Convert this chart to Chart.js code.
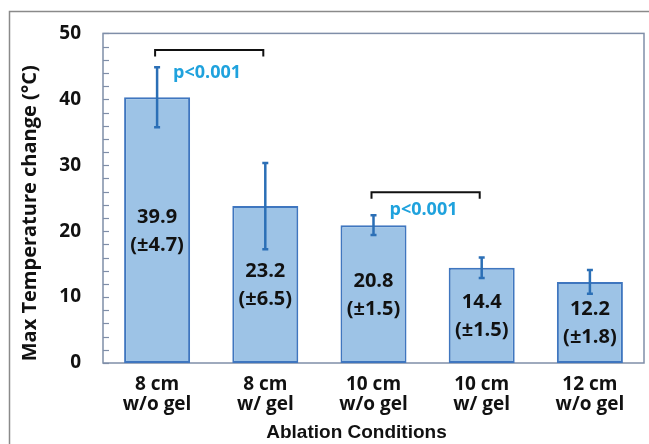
<!DOCTYPE html>
<html>
<head>
<meta charset="utf-8">
<script src="https://cdn.jsdelivr.net/npm/chart.js@4.4.1/dist/chart.umd.min.js"></script>
<style>
  html, body { margin: 0; padding: 0; background: #fff; }
  #wrap { width: 649px; height: 444px; }
</style>
</head>
<body>
<div id="wrap"><canvas id="Chart-1"></canvas></div>
<script>
const conditions = [['8 cm', 'w/o gel'], ['8 cm', 'w/ gel'], ['10 cm', 'w/o gel'], ['10 cm', 'w/ gel'], ['12 cm', 'w/o gel']];
const tempChange = [40.3, 23.8, 20.9, 14.45, 12.3];
const errorSize = [4.55, 6.55, 1.5, 1.55, 1.8];
const meanLabels = ['39.9', '23.2', '20.8', '14.4', '12.2'];
const sdLabels = ['(±4.7)', '(±6.5)', '(±1.5)', '(±1.5)', '(±1.8)'];
const yTicks = [0, 10, 20, 30, 40, 50];
const pBrackets = [
    { from: 0, to: 1, top: 47.5, legs: 46.5, text: 'p<0.001', textY: 44.0 },
    { from: 2, to: 3, top: 25.9, legs: 24.9, text: 'p<0.001', textY: 23.2 }
];

const FONT = "'Open Sans', 'Noto Sans', sans-serif";

const extras = {
    id: 'extras',
    beforeDraw(chart) {
        const ctx = chart.ctx;
        ctx.save();
        // outer figure frame
        ctx.strokeStyle = '#8a8a8a';
        ctx.lineWidth = 1.5;
        ctx.beginPath();
        ctx.moveTo(9.5, 444);
        ctx.lineTo(9.5, 11.5);
        ctx.lineTo(649, 11.5);
        ctx.stroke();
        ctx.restore();
    },
    beforeDatasetsDraw(chart) {
        const ctx = chart.ctx;
        const a = chart.chartArea;
        const y = chart.scales.y;
        ctx.save();
        ctx.strokeStyle = '#7f8ea8';
        ctx.lineWidth = 1.5;
        ctx.strokeRect(a.left, a.top, a.right - a.left, a.bottom - a.top);
        // minor tick marks inside the plot
        ctx.lineWidth = 1.2;
        y.ticks.forEach(t => {
            const py = Math.round(y.getPixelForValue(t.value)) + 0.5;
            ctx.beginPath();
            ctx.moveTo(a.left, py);
            ctx.lineTo(a.left + 6, py);
            ctx.stroke();
        });
        ctx.restore();
    },
    afterDatasetsDraw(chart) {
        const ctx = chart.ctx;
        const x = chart.scales.x;
        const y = chart.scales.y;
        const a = chart.chartArea;
        ctx.save();

        // error bars
        ctx.strokeStyle = '#2b6fb6';
        ctx.lineWidth = 2.5;
        tempChange.forEach((v, i) => {
            const px = x.getPixelForValue(i);
            const top = y.getPixelForValue(v + errorSize[i]);
            const bot = y.getPixelForValue(v - errorSize[i]);
            ctx.beginPath();
            ctx.moveTo(px, top);
            ctx.lineTo(px, bot);
            ctx.moveTo(px - 3, top);
            ctx.lineTo(px + 3, top);
            ctx.moveTo(px - 3, bot);
            ctx.lineTo(px + 3, bot);
            ctx.stroke();
        });

        // value labels inside bars
        ctx.fillStyle = '#111';
        ctx.font = 'bold 20px ' + FONT;
        ctx.textAlign = 'center';
        ctx.textBaseline = 'middle';
        tempChange.forEach((v, i) => {
            const px = x.getPixelForValue(i);
            const mid = y.getPixelForValue(v / 2) + 1;
            ctx.fillText(meanLabels[i], px, mid - 14);
            ctx.fillText(sdLabels[i], px, mid + 14);
        });

        // significance brackets
        pBrackets.forEach(b => {
            const x1 = x.getPixelForValue(b.from) - 2;
            const x2 = x.getPixelForValue(b.to) - 2;
            const yt = y.getPixelForValue(b.top);
            const yl = y.getPixelForValue(b.legs);
            ctx.strokeStyle = '#111';
            ctx.lineWidth = 2;
            ctx.beginPath();
            ctx.moveTo(x1, yl);
            ctx.lineTo(x1, yt);
            ctx.lineTo(x2, yt);
            ctx.lineTo(x2, yl);
            ctx.stroke();
            ctx.fillStyle = '#1fa2dd';
            ctx.font = 'bold 18px ' + FONT;
            ctx.textAlign = 'left';
            ctx.fillText(b.text, x.getPixelForValue(b.from) + 16, y.getPixelForValue(b.textY));
        });

        // axis titles
        ctx.fillStyle = '#111';
        ctx.textAlign = 'center';
        ctx.font = 'bold 20px ' + FONT;
        ctx.translate(30, (a.top + a.bottom) / 2 + 15);
        ctx.rotate(-Math.PI / 2);
        ctx.fillText('Max Temperature change (°C)', 0, 0);
        ctx.setTransform(1, 0, 0, 1, 0, 0);
        ctx.font = "bold 19px 'Liberation Sans', Arial, sans-serif";
        ctx.fillText('Ablation Conditions', (a.left + a.right) / 2 - 17, 433);
        ctx.restore();
    }
};

new Chart(document.getElementById('Chart-1'), {
    type: 'bar',
    data: {
        labels: conditions,
        datasets: [{
            data: tempChange,
            backgroundColor: '#9dc3e6',
            borderColor: '#3f76bf',
            borderWidth: 2,
            borderSkipped: false,
            barPercentage: 0.61,
            categoryPercentage: 1
        }]
    },
    options: {
        responsive: true,
        maintainAspectRatio: false,
        animation: false,
        layout: {
            padding: { top: 31, right: 5, left: 0, bottom: 0 }
        },
        plugins: {
            legend: { display: false },
            tooltip: { enabled: false }
        },
        scales: {
            x: {
                grid: { display: false, drawTicks: false },
                border: { display: false },
                ticks: {
                    color: '#111',
                    padding: 12,
                    font: { family: FONT, size: 19, weight: 'bold', lineHeight: 1.05 }
                },
                afterFit: s => { s.height = 81; }
            },
            y: {
                min: 0,
                max: 50,
                grid: { display: false, drawTicks: false },
                border: { display: false },
                ticks: {
                    stepSize: 2,
                    autoSkip: false,
                    color: '#111',
                    padding: 22,
                    font: { family: FONT, size: 19, weight: 'bold' },
                    callback: v => yTicks.includes(v) ? v : ''
                },
                afterFit: s => { s.width = 103; }
            }
        }
    },
    plugins: [extras]
});
</script>
</body>
</html>
